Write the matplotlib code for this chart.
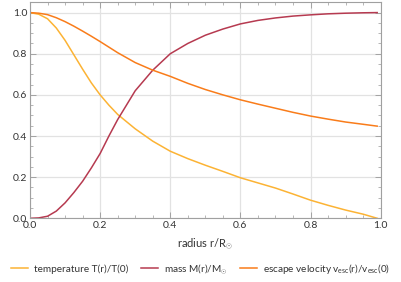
import matplotlib.pyplot as plt
from matplotlib.ticker import MultipleLocator

plt.rcParams['font.family'] = ['Lato', 'DejaVu Sans']
plt.rcParams['mathtext.fontset'] = 'custom'
plt.rcParams['mathtext.rm'] = 'Lato'
plt.rcParams['mathtext.it'] = 'Lato'

# radius r/R_sun
radius = [0.0, 0.025, 0.05, 0.075, 0.1, 0.125, 0.15, 0.175, 0.2, 0.225, 0.25, 0.3, 0.35,
          0.4, 0.45, 0.5, 0.55, 0.6, 0.65, 0.7, 0.75, 0.8, 0.85, 0.9, 0.95, 0.99]
temperature = [1.0, 0.992, 0.97, 0.925, 0.865, 0.795, 0.725, 0.658, 0.6, 0.55, 0.505, 0.435, 0.375,
               0.326, 0.29, 0.258, 0.228, 0.197, 0.172, 0.147, 0.118, 0.088, 0.063, 0.04, 0.02, 0.0]
mass = [0.0, 0.002, 0.01, 0.035, 0.075, 0.125, 0.18, 0.245, 0.315, 0.4, 0.48, 0.62, 0.72,
        0.8, 0.85, 0.89, 0.92, 0.945, 0.962, 0.974, 0.983, 0.989, 0.994, 0.997, 0.999, 1.0]
escape = [1.0, 0.997, 0.99, 0.975, 0.956, 0.934, 0.91, 0.885, 0.859, 0.832, 0.805, 0.757, 0.72,
          0.69, 0.656, 0.626, 0.6, 0.576, 0.555, 0.535, 0.515, 0.497, 0.482, 0.468, 0.457, 0.448]

labels = ['temperature T(r)/T(0)',
          r'mass M(r)/M$_{\odot}$',
          r'escape velocity v$_{\rm esc}$(r)/v$_{\rm esc}$(0)']
colors = ['#fcb334', '#b63a50', '#f97c1a']

fig = plt.figure(figsize=(4.01, 2.82), dpi=100)
ax = fig.add_axes([30 / 401, 1 - 218.3 / 282, 350.7 / 401, 216 / 282])

for series, label, color in zip([temperature, mass, escape], labels, colors):
    ax.plot(radius, series, color=color, lw=1.1, label=label)

ax.set_xlim(0, 1.0)
ax.set_ylim(0, 1.05)
ax.xaxis.set_major_locator(MultipleLocator(0.2))
ax.xaxis.set_minor_locator(MultipleLocator(0.05))
ax.yaxis.set_major_locator(MultipleLocator(0.2))
ax.yaxis.set_minor_locator(MultipleLocator(0.05))
ax.xaxis.set_major_formatter(lambda v, p: f'{v:.1f}')
ax.yaxis.set_major_formatter(lambda v, p: f'{v:.1f}')
ax.tick_params(which='both', direction='in', top=True, right=True,
               color='#999999', labelsize=7.5, labelcolor='#333333', pad=2)
ax.tick_params(which='major', length=4, width=0.6)
ax.tick_params(which='minor', length=2, width=0.5)
ax.grid(True, which='major', color='#e2e2e2', lw=0.9)
ax.set_axisbelow(True)
for sp in ax.spines.values():
    sp.set_color('#a0a0a0')
    sp.set_linewidth(0.8)

ax.set_xlabel(r'radius r/R$_{\odot}$', fontsize=8, color='#333333', labelpad=5)

fig.legend(loc='lower center', ncol=3, frameon=False, fontsize=7.2,
           bbox_to_anchor=(0.5, -0.01), handlelength=1.7, handletextpad=0.55,
           columnspacing=1.3, labelcolor='#333333')

fig.savefig('out.png', dpi=100)
